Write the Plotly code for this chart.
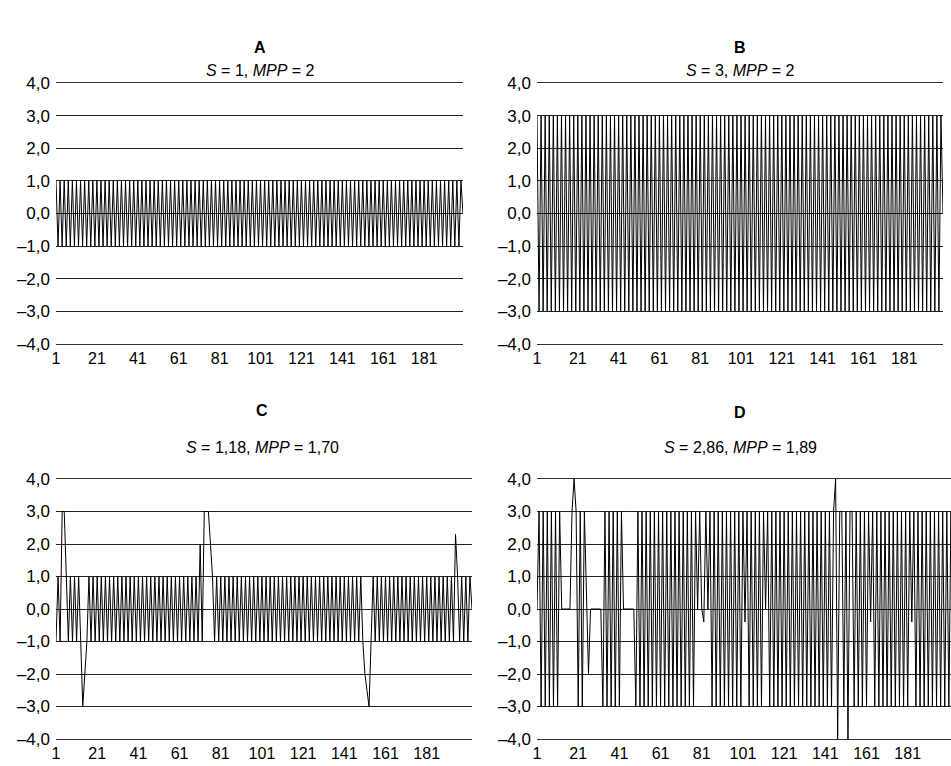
import plotly.graph_objects as go

# ---------------- data ----------------
a_values = [
    1, -1, 1, -1, 1, -1, 1, -1, 1, -1, 1, -1, 1, -1, 1, -1, 1, -1, 1, -1,
    1, -1, 1, -1, 1, -1, 1, -1, 1, -1, 1, -1, 1, -1, 1, -1, 1, -1, 1, -1,
    1, -1, 1, -1, 1, -1, 1, -1, 1, -1, 1, -1, 1, -1, 1, -1, 1, -1, 1, -1,
    1, -1, 1, -1, 1, -1, 1, -1, 1, -1, 1, -1, 1, -1, 1, -1, 1, -1, 1, -1,
    1, -1, 1, -1, 1, -1, 1, -1, 1, -1, 1, -1, 1, -1, 1, -1, 1, -1, 1, -1,
    1, -1, 1, -1, 1, -1, 1, -1, 1, -1, 1, -1, 1, -1, 1, -1, 1, -1, 1, -1,
    1, -1, 1, -1, 1, -1, 1, -1, 1, -1, 1, -1, 1, -1, 1, -1, 1, -1, 1, -1,
    1, -1, 1, -1, 1, -1, 1, -1, 1, -1, 1, -1, 1, -1, 1, -1, 1, -1, 1, -1,
    1, -1, 1, -1, 1, -1, 1, -1, 1, -1, 1, -1, 1, -1, 1, -1, 1, -1, 1, -1,
    1, -1, 1, -1, 1, -1, 1, -1, 1, -1, 1, -1, 1, -1, 1, -1, 1, -1, 1, 0,
]

b_values = [
    3, -3, 3, -3, 3, -3, 3, -3, 3, -3, 3, -3, 3, -3, 3, -3, 3, -3, 3, -3,
    3, -3, 3, -3, 3, -3, 3, -3, 3, -3, 3, -3, 3, -3, 3, -3, 3, -3, 3, -3,
    3, -3, 3, -3, 3, -3, 3, -3, 3, -3, 3, -3, 3, -3, 3, -3, 3, -3, 3, -3,
    3, -3, 3, -3, 3, -3, 3, -3, 3, -3, 3, -3, 3, -3, 3, -3, 3, -3, 3, -3,
    3, -3, 3, -3, 3, -3, 3, -3, 3, -3, 3, -3, 3, -3, 3, -3, 3, -3, 3, -3,
    3, -3, 3, -3, 3, -3, 3, -3, 3, -3, 3, -3, 3, -3, 3, -3, 3, -3, 3, -3,
    3, -3, 3, -3, 3, -3, 3, -3, 3, -3, 3, -3, 3, -3, 3, -3, 3, -3, 3, -3,
    3, -3, 3, -3, 3, -3, 3, -3, 3, -3, 3, -3, 3, -3, 3, -3, 3, -3, 3, -3,
    3, -3, 3, -3, 3, -3, 3, -3, 3, -3, 3, -3, 3, -3, 3, -3, 3, -3, 3, -3,
    3, -3, 3, -3, 3, -3, 3, -3, 3, -3, 3, -3, 3, -3, 3, -3, 3, -3, 3, 0,
]

c_values = [
    -1, 1, -1, 3, 3, 1, -1, 1, -1, 1, -1, 1, -1, -3, -2, -1, 1, -1, 1, -1,
    1, -1, 1, -1, 1, -1, 1, -1, 1, -1, 1, -1, 1, -1, 1, -1, 1, -1, 1, -1,
    1, -1, 1, -1, 1, -1, 1, -1, 1, -1, 1, -1, 1, -1, 1, -1, 1, -1, 1, -1,
    1, -1, 1, -1, 1, -1, 1, -1, 1, -1, 2, -1, 3, 3, 3, 2, 1, -1, 1, -1,
    1, -1, 1, -1, 1, -1, 1, -1, 1, -1, 1, -1, 1, -1, 1, -1, 1, -1, 1, -1,
    1, -1, 1, -1, 1, -1, 1, -1, 1, -1, 1, -1, 1, -1, 1, -1, 1, -1, 1, -1,
    1, -1, 1, -1, 1, -1, 1, -1, 1, -1, 1, -1, 1, -1, 1, -1, 1, -1, 1, -1,
    1, -1, 1, -1, 1, -1, 1, -1, 1, -1, -2, -2.5, -3, -1, 1, -1, 1, -1, 1, -1,
    1, -1, 1, -1, 1, -1, 1, -1, 1, -1, 1, -1, 1, -1, 1, -1, 1, -1, 1, -1,
    1, -1, 1, -1, 1, -1, 1, -1, 1, -1, 1, -1, 1, -1, 2.3, 1, -1, 1, -1, 1,
    -1, 1, 0,
]

d_values = [
    0, 3, -3, 3, -3, 3, -3, 3, -3, 3, -3, 3, 0, 0, 0, 0, 0, 3, 4, 3,
    -3, 3, -3, 3, 0, -2, 0, 0, 0, 0, 0, 0, -3, 3, -3, 3, -3, 3, -3, 3,
    -3, 3, 0, 0, 0, 0, 0, 0, -3, 3, -3, 3, -3, 3, -3, 3, -3, 3, -3, 3,
    -3, 3, -3, 3, -3, 3, -3, 3, -3, 3, -3, 3, -3, 3, -3, 3, -3, 3, 0, 3,
    0, -0.4, 3, 0, 3, -3, 3, -3, 3, -3, 3, -3, 3, -3, 3, -3, 3, -3, 3, -3,
    3, -0.4, 3, -3, 3, -3, 3, -3, 3, -3, 3, 0, 3, -3, 3, -3, 3, -3, 3, -3,
    3, -3, 3, -3, 3, -3, 3, -3, 3, -3, 3, -3, 3, -3, 3, -3, 3, -3, 3, -3,
    3, -3, 3, -3, 3, 4, -4, 3, 3, -3, 3, -4, 3, 3, -3, 3, -3, 3, -3, 3,
    -3, 3, -0.4, 3, -3, 3, -3, 3, -3, 3, -3, 3, -3, 3, -3, 3, -3, 3, -3, 3,
    -3, 3, -0.4, 3, -3, 3, -3, 3, -3, 3, -3, 3, -3, 3, -3, 3, -3, 3, -3, 3,
    -3, 3, -3,
]

panel_letters = ["A", "B", "C", "D"]
panel_subtitles = [
    "<i>S</i> = 1, <i>MPP</i> = 2",
    "<i>S</i> = 3, <i>MPP</i> = 2",
    "<i>S</i> = 1,18, <i>MPP</i> = 1,70",
    "<i>S</i> = 2,86, <i>MPP</i> = 1,89",
]
y_tick_values = [-4, -3, -2, -1, 0, 1, 2, 3, 4]
y_tick_labels = ["\u20134,0", "\u20133,0", "\u20132,0", "\u20131,0", "0,0", "1,0", "2,0", "3,0", "4,0"]
x_tick_values = [1, 21, 41, 61, 81, 101, 121, 141, 161, 181]
x_tick_labels = ["1", "21", "41", "61", "81", "101", "121", "141", "161", "181"]

# ---------------- layout ----------------
W, H = 951, 766
FONT = "Liberation Sans, Arial, sans-serif"

series = [a_values, b_values, c_values, d_values]
# pixel boxes: left, right, top(4.0), bottom(-4.0)
boxes = [
    (56, 463, 83, 344),
    (537, 943, 83, 344),
    (56, 472, 479, 739),
    (537, 953, 479, 739),
]
title_centers = [260, 740, 262, 740]
title_y = [(48, 71), (48, 71), (410, 447), (412, 447)]

fig = go.Figure()
annotations = []
for k, (vals, box) in enumerate(zip(series, boxes)):
    l, r, t, b = box
    n = len(vals)
    xs = list(range(1, n + 1))
    sfx = "" if k == 0 else str(k + 1)
    fig.add_trace(go.Scatter(
        x=xs, y=vals, mode="lines",
        line=dict(color="black", width=1),
        xaxis="x" + sfx, yaxis="y" + sfx, showlegend=False,
        hoverinfo="skip",
    ))
    spacing = (r - l) / (n - 1)
    r_clip = min(r, W)
    xmax = 1 + (r_clip - l) / spacing
    fig.layout["xaxis" + sfx] = dict(
        domain=[l / W, r_clip / W], range=[1, xmax],
        anchor="y" + sfx, showgrid=False, zeroline=False,
        showline=True, mirror=True, linecolor="#333333", linewidth=1,
        tickmode="array", tickvals=x_tick_values, ticktext=x_tick_labels,
        ticks="", tickfont=dict(family=FONT, size=16, color="black"),
        automargin=False, fixedrange=True,
    )
    fig.layout["yaxis" + sfx] = dict(
        domain=[1 - b / H, 1 - t / H], range=[-4, 4],
        anchor="x" + sfx, showgrid=True, gridcolor="#222222", gridwidth=1,
        zeroline=False, showline=False,
        tickmode="array", tickvals=y_tick_values, ticktext=y_tick_labels,
        ticks="", ticklabelstandoff=5,
        tickfont=dict(family=FONT, size=17, color="black"),
        automargin=False, fixedrange=True,
    )
    cx = title_centers[k] / W
    ty, sy = title_y[k]
    annotations.append(dict(
        x=cx, y=1 - ty / H, xref="paper", yref="paper",
        text="<b>" + panel_letters[k] + "</b>", showarrow=False,
        xanchor="center", yanchor="middle",
        font=dict(family=FONT, size=16, color="black"),
    ))
    annotations.append(dict(
        x=cx, y=1 - sy / H, xref="paper", yref="paper",
        text=panel_subtitles[k], showarrow=False,
        xanchor="center", yanchor="middle",
        font=dict(family=FONT, size=16, color="black"),
    ))

fig.update_layout(
    width=W, height=H,
    margin=dict(l=0, r=0, t=0, b=0, autoexpand=False),
    paper_bgcolor="white", plot_bgcolor="white",
    annotations=annotations,
    showlegend=False,
)

fig.write_html(
    "out.html",
    config={"displayModeBar": False, "staticPlot": True},
    post_script="document.body.style.margin='0';document.body.style.overflow='hidden';",
)
